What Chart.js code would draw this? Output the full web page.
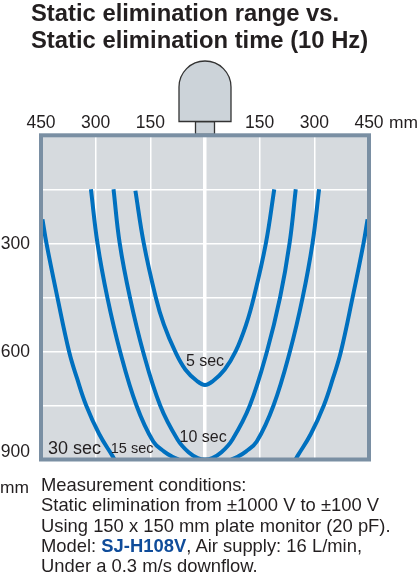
<!DOCTYPE html>
<html>
<head>
<meta charset="utf-8">
<script src="https://cdn.jsdelivr.net/npm/chart.js@4"></script>
<style>
body { margin: 0; background: #fff; }
#wrap { position: relative; width: 419px; height: 576px; overflow: hidden; font-family: "Liberation Sans", Arial, sans-serif; color: #231f20; }
#myChart { position: absolute; left: 0; top: 0; }
.t { position: absolute; white-space: nowrap; }
#title { left: 31px; top: -1px; font-weight: bold; font-size: 23.8px; line-height: 27px; }
#unitX { left: 389px; top: 112px; font-size: 17.4px; line-height: 20px; }
#unitY { left: 0; top: 477px; font-size: 17.4px; line-height: 20px; }
#notes { left: 41px; top: 475px; font-size: 18.4px; line-height: 20.3px; }
#notes b { color: #0f4c9a; }
</style>
</head>
<body>
<div id="wrap">
  <canvas id="myChart" width="419" height="576"></canvas>
  <div class="t" id="title">Static elimination range vs.<br>Static elimination time (10 Hz)</div>
  <div class="t" id="unitX">mm</div>
  <div class="t" id="unitY">mm</div>
  <div class="t" id="notes">Measurement conditions:<br>Static elimination from ±1000 V to ±100 V<br>Using 150 x 150 mm plate monitor (20 pF).<br>Model: <b>SJ-H108V</b>, Air supply: 16 L/min,<br>Under a 0.3 m/s downflow.</div>
</div>
<script>
// horizontal distance (mm), null = curve leaves the chart at the bottom
var range30 = [-446, -435, -405, -373, -351, -326, -290, -254, -248, null, 248, 254, 290, 326, 351, 373, 405, 435, 446];
var dist30 = [233, 300, 450, 600, 675, 750, 830, 890, 900, null, 900, 890, 830, 750, 675, 600, 450, 300, 233];
var range15 = [-313, -295, -268, -233, -188, -142, -112, -88, -72, null, 72, 88, 112, 142, 188, 233, 268, 295, 313];
var dist15 = [150, 300, 450, 600, 750, 850, 878, 893, 900, null, 900, 893, 878, 850, 750, 600, 450, 300, 150];
var range10 = [-251, -234, -206, -170, -123, -75, -45, -20, 0, 20, 45, 75, 123, 170, 206, 232, 249];
var dist10 = [150, 300, 450, 600, 750, 845, 880, 896, 900, 896, 880, 845, 750, 600, 450, 300, 150];
var range5 = [-191, -168, -135, -113, -82, -54, -22, 0, 22, 54, 84, 113, 134, 167, 190];
var dist5 = [154, 300, 450, 525, 600, 650, 682, 693, 682, 650, 600, 525, 450, 300, 150];

var xLabels = [-450, -300, -150, 150, 300, 450];
var yLabels = [300, 600, 900];

var seriesNames = ['30 sec', '15 sec', '10 sec', '5 sec'];
var labelX = [-358, -200, -5, 0];
var labelY = [870, 872, 840, 627];
var labelSize = [18, 14.5, 16, 16];

function points(xs, ys) {
    return xs.map(function (v, i) { return { x: v, y: ys[i] }; });
}

function curve(name, xs, ys) {
    return {
        label: name,
        data: points(xs, ys),
        borderColor: '#0070bf',
        borderWidth: 4,
        pointRadius: 0,
        tension: 0.4,
        fill: false
    };
}

// background, ionizer head, frame and the labels on the curves
var decor = {
    id: 'decor',
    beforeDraw: function (chart) {
        var c = chart.ctx, a = chart.chartArea;
        c.save();
        c.fillStyle = '#d6dade';
        c.fillRect(a.left, a.top, a.right - a.left, a.bottom - a.top);
        c.fillStyle = '#ccd3d9';
        c.strokeStyle = '#333';
        c.lineWidth = 1.3;
        c.beginPath();
        c.rect(195.5, 121.5, 19, 13);
        c.fill();
        c.stroke();
        c.beginPath();
        c.moveTo(179, 121.5);
        c.lineTo(179, 87);
        c.arc(205, 87, 26, Math.PI, 0);
        c.lineTo(231, 121.5);
        c.closePath();
        c.fill();
        c.stroke();
        c.restore();
    },
    afterDraw: function (chart) {
        var c = chart.ctx, a = chart.chartArea;
        c.save();
        c.strokeStyle = '#7a8fa3';
        c.lineWidth = 4;
        c.strokeRect(a.left, a.top, a.right - a.left, a.bottom - a.top);
        c.fillStyle = '#231f20';
        c.textAlign = 'center';
        c.textBaseline = 'middle';
        seriesNames.forEach(function (n, i) {
            c.font = labelSize[i] + 'px "Liberation Sans"';
            c.fillText(n, chart.scales.x.getPixelForValue(labelX[i]), chart.scales.y.getPixelForValue(labelY[i]));
        });
        c.restore();
    }
};

var ctx = document.getElementById('myChart').getContext('2d');
var chart = new Chart(ctx, {
    type: 'line',
    data: {
        datasets: [
            curve('30 sec', range30, dist30),
            curve('15 sec', range15, dist15),
            curve('10 sec', range10, dist10),
            curve('5 sec', range5, dist5)
        ]
    },
    options: {
        responsive: false,
        animation: false,
        parsing: false,
        spanGaps: false,
        layout: { padding: { right: 50, bottom: 116.5 } },
        plugins: { legend: { display: false }, tooltip: { enabled: false } },
        scales: {
            x: {
                type: 'linear',
                position: 'top',
                min: -450,
                max: 450,
                afterFit: function (s) { s.height = 135.3; },
                border: { display: false },
                grid: {
                    color: '#fff',
                    drawTicks: false,
                    lineWidth: function (c) { return c.tick.value === 0 ? 3.5 : 1.5; }
                },
                ticks: {
                    stepSize: 150,
                    maxRotation: 0,
                    autoSkip: false,
                    padding: 2,
                    color: '#231f20',
                    font: { family: '"Liberation Sans"', size: 17.5 },
                    callback: function (v) { return xLabels.indexOf(v) >= 0 ? String(Math.abs(v)) : ''; }
                }
            },
            y: {
                type: 'linear',
                reverse: true,
                min: 0,
                max: 900,
                afterFit: function (s) { s.width = 41; },
                border: { display: false },
                grid: { color: '#fff', drawTicks: false, lineWidth: 1.5 },
                ticks: {
                    stepSize: 150,
                    autoSkip: false,
                    padding: 11,
                    labelOffset: 1,
                    color: '#231f20',
                    font: { family: '"Liberation Sans"', size: 17.5, lineHeight: 1 },
                    callback: function (v) {
                        if (v === 900) return ['900', ''];   // sits a little above its grid line
                        return yLabels.indexOf(v) >= 0 ? String(v) : '';
                    }
                }
            }
        }
    },
    plugins: [decor]
});
</script>
</body>
</html>
